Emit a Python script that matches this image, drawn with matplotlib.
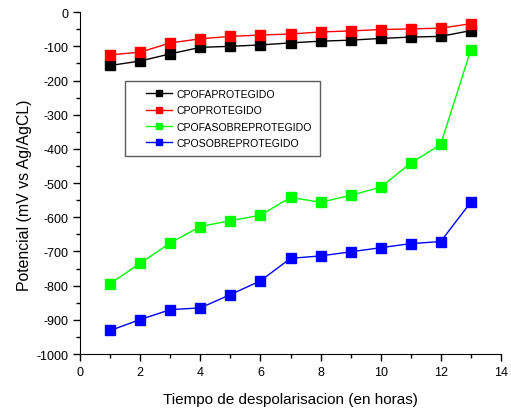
import matplotlib.pyplot as plt
from matplotlib.ticker import MultipleLocator
from matplotlib.lines import Line2D
from matplotlib.legend_handler import HandlerLine2D

plt.rcParams['font.family'] = ['Liberation Sans', 'DejaVu Sans']
plt.rcParams['axes.unicode_minus'] = False

horas = [1, 2, 3, 4, 5, 6, 7, 8, 9, 10, 11, 12, 13]
cpofaprotegido = [-156, -143, -122, -103, -100, -96, -90, -85, -82, -77, -73, -71, -54]
cpoprotegido = [-125, -117, -90, -78, -71, -67, -64, -58, -55, -51, -49, -47, -34]
cpofasobreprotegido = [-794, -734, -675, -627, -610, -594, -542, -556, -536, -512, -442, -387, -111]
cposobreprotegido = [-931, -899, -870, -865, -826, -786, -720, -713, -701, -689, -677, -671, -556]

series = [
    ("CPOFAPROTEGIDO", cpofaprotegido, "black"),
    ("CPOPROTEGIDO", cpoprotegido, "#ff0000"),
    ("CPOFASOBREPROTEGIDO", cpofasobreprotegido, "#00ff00"),
    ("CPOSOBREPROTEGIDO", cposobreprotegido, "#0000ff"),
]

fig = plt.figure(figsize=(5.11, 4.10), dpi=100)
ax = fig.add_axes([0.157, 0.134, 0.823, 0.834])

for name, vals, col in series:
    ax.plot(horas, vals, color=col, lw=1, marker="s", ms=6.5,
            mec=col, mfc=col, label=name)

ax.set_xlim(0, 14)
ax.set_ylim(-1000, 0)
ax.xaxis.set_major_locator(MultipleLocator(2))
ax.xaxis.set_minor_locator(MultipleLocator(1))
ax.yaxis.set_major_locator(MultipleLocator(100))
ax.yaxis.set_minor_locator(MultipleLocator(50))
ax.spines["top"].set_visible(False)
ax.spines["right"].set_visible(False)
ax.tick_params(which="major", length=5, width=1, labelsize=9, direction="out")
ax.tick_params(which="minor", length=3, width=1, direction="out")

ax.set_xlabel("Tiempo de despolarisacion (en horas)", fontsize=11, labelpad=10)
ax.set_ylabel("Potencial (mV vs Ag/AgCL)", fontsize=11.4)
ax.yaxis.set_label_coords(-0.114, 0.468)

leg = ax.legend(loc="upper left", bbox_to_anchor=(0.107, 0.80), fontsize=7.6,
                frameon=True, fancybox=False, edgecolor="#333333",
                handlelength=3.6, handletextpad=0.47, labelspacing=0.6,
                borderpad=0.8, borderaxespad=0, markerscale=0.7,
                handler_map={Line2D: HandlerLine2D(xpad=1.2)})
leg.get_frame().set_linewidth(1)

fig.savefig("out.png", dpi=100)
